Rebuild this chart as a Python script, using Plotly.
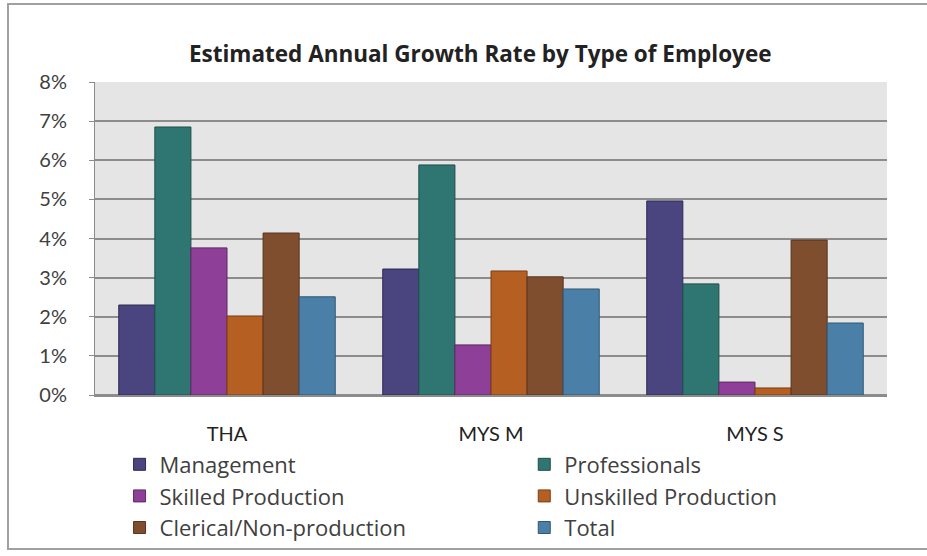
import plotly.graph_objects as go

countries = ["THA", "MYS M", "MYS S"]
series_names = ["Management", "Professionals", "Skilled Production",
                "Unskilled Production", "Clerical/Non-production", "Total"]
management = [0.0230, 0.0322, 0.0496]
professionals = [0.0685, 0.0588, 0.0284]
skilled = [0.0376, 0.0128, 0.0033]
unskilled = [0.0202, 0.0317, 0.0018]
clerical = [0.0414, 0.0302, 0.0396]
total = [0.0251, 0.0271, 0.0184]
y_ticks = [0, 0.01, 0.02, 0.03, 0.04, 0.05, 0.06, 0.07, 0.08]

fills = ["#4A447F", "#2F7571", "#8E3F98", "#B65F22", "#7E4E2F", "#4A80A8"]
edges = ["#2E2A55", "#1E4E4B", "#5E2966", "#7A3E15", "#553420", "#315772"]
# left legend column holds the even-numbered series, right column the odd ones
legend_ids = ["legend", "legend2", "legend", "legend2", "legend", "legend2"]

fig = go.Figure()
for i, (name, vals, fc, ec) in enumerate(zip(
        series_names,
        [management, professionals, skilled, unskilled, clerical, total],
        fills, edges)):
    fig.add_trace(go.Bar(x=countries, y=vals, name=name,
                         legend=legend_ids[i], legendgroup=name,
                         marker=dict(color=fc, line=dict(color=ec, width=1))))

legend_style = dict(orientation="v", yanchor="top", y=-0.155, xanchor="left",
                    tracegroupgap=0, itemwidth=30,
                    font=dict(family="'Open Sans', sans-serif", size=22, color="#404040"),
                    bgcolor="rgba(0,0,0,0)", traceorder="grouped")

fig.update_layout(
    width=927, height=556,
    margin=dict(l=95, r=40, t=82, b=161, autoexpand=False),
    paper_bgcolor="white",
    plot_bgcolor="#E5E5E5",
    barmode="group", bargap=0.18, bargroupgap=0,
    font=dict(family="Lato, 'Open Sans', sans-serif", size=20, color="#404040"),
    title=dict(text="<b>Estimated Annual Growth Rate by Type of Employee</b>",
               x=0.518, xanchor="center", y=0.902, yanchor="middle",
               font=dict(family="'Open Sans', sans-serif", size=22.5, color="#222222")),
    showlegend=True,
    legend=dict(x=0.031, **legend_style),
    legend2=dict(x=0.542, **legend_style),
    shapes=[dict(type="rect", xref="paper", yref="paper",
                 x0=-87/792, x1=1.2, y0=-154/313, y1=1 + 78/313,
                 line=dict(color="#A0A0A0", width=2), layer="below")],
)

fig.update_yaxes(range=[0, 0.08], tickvals=y_ticks, tickformat=".0%",
                 showgrid=True, gridcolor="#8C8C8C", gridwidth=2,
                 showline=True, linecolor="#8C8C8C", linewidth=1,
                 ticks="outside", ticklen=5, tickcolor="#8C8C8C",
                 zeroline=True, zerolinecolor="#8C8C8C", zerolinewidth=2,
                 tickfont=dict(size=20, color="#404040"), ticklabelstandoff=18)
fig.update_xaxes(showgrid=False, showline=True, linecolor="#8C8C8C", linewidth=2,
                 ticks="", tickfont=dict(size=20, color="#222222"),
                 ticklabelstandoff=20)

fig.write_html("out.html")
